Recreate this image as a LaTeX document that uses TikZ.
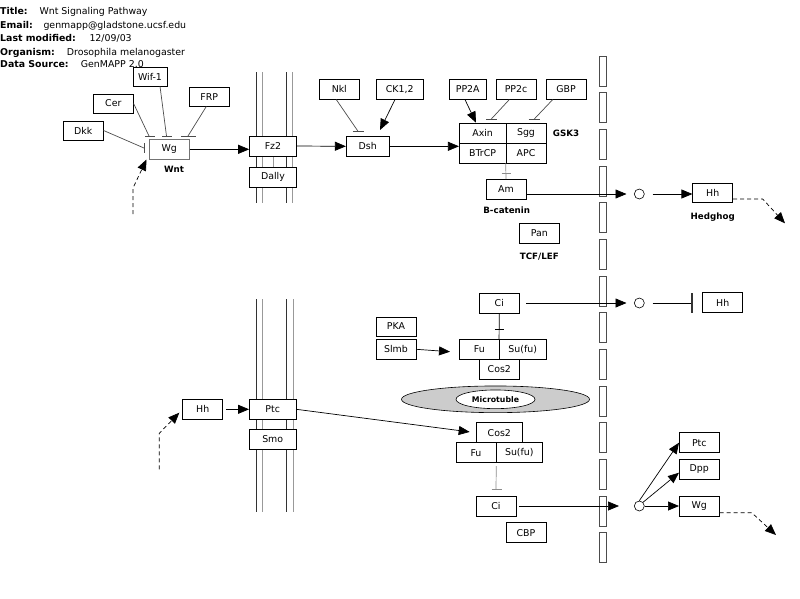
\documentclass[tikz,border=0pt]{standalone}
\usepackage{fontspec}
\setmainfont{DejaVu Sans}
\usetikzlibrary{arrows.meta,shapes.geometric,calc}
\begin{document}
\begin{tikzpicture}[x=1pt,y=-1pt,
 box/.style={draw=black, fill=white, line width=0.6pt, inner sep=0pt, minimum height=20pt, font=\fontsize{9.4}{10}\selectfont},
 lbl/.style={inner sep=0pt, font=\bfseries\fontsize{8.7}{10}\selectfont},
 conn/.style={line width=0.7pt},
 arr/.style={conn, -{Triangle[length=11pt,width=9pt]}},
 dasharr/.style={conn, dash pattern=on 4pt off 3pt, -{Triangle[length=11pt,width=9pt]}},
 inh/.style={line width=0.7pt, draw=black!70},
 pore/.style={draw=black!70, line width=0.6pt},
 memb/.style={line width=0.7pt, draw=black!80},
 membg/.style={line width=0.9pt, draw=black!40},
 hdr/.style={anchor=base west, inner sep=0pt, font=\fontsize{9.4}{10}\selectfont},
 ring/.style={circle, draw, fill=white, line width=0.6pt, minimum size=10pt, inner sep=0pt}]
\useasboundingbox (0,0) rectangle (800,598);

% header
\node[hdr] (t1) at (0,14) {\textbf{Title:}};
\node[hdr] (v1) at (39.3,14) {Wnt Signaling Pathway};
\node[hdr] (t2) at (0,28) {\textbf{Email:}};
\node[hdr] (v2) at (43.3,28) {genmapp@gladstone.ucsf.edu};
\node[hdr] (t3) at (0,41) {\textbf{Last modified:}};
\node[hdr] (v3) at (89.3,41) {12/09/03};
\node[hdr] (t4) at (0,55) {\textbf{Organism:}};
\node[hdr] (v4) at (66.7,55) {Drosophila melanogaster};
\node[hdr] (t5) at (0,67) {\textbf{Data Source:}};
\node[hdr] (v5) at (80.7,67) {GenMAPP 2.0};

% cell membranes
\draw[memb] (256,72) -- (256,203);
\draw[memb] (286,72) -- (286,203);
\draw[membg] (262.3,72) -- (262.3,203);
\draw[membg] (292.3,72) -- (292.3,203);
\draw[membg] (273,156) -- (273,167);
\draw[memb] (256.3,299) -- (256.3,512);
\draw[memb] (286.7,299) -- (286.7,512);
\draw[membg] (262.7,299) -- (262.7,512);
\draw[membg] (293,299) -- (293,512);

% nuclear membrane pores
\foreach \k in {0,...,13} \draw[pore] (599.5,{56+36.67*\k}) rectangle ++(6.5,30);

% top nodes
\node[box, minimum width=34pt, minimum height=19pt] (wif) at (150,76.5) {Wif-1};
\node[box, minimum width=40pt, minimum height=19pt] (cer) at (113.3,103.5) {Cer};
\node[box, minimum width=40pt, minimum height=19pt] (frp) at (209.3,96.7) {FRP};
\node[box, minimum width=40pt, minimum height=19pt] (dkk) at (83.3,130.5) {Dkk};
\node[box, draw=black!55, minimum width=40pt] (wg) at (169.3,149.3) {Wg};
\node[lbl] (wnt) at (174,169.5) {Wnt};
\node[box, minimum width=47pt] (fz2) at (273,146) {Fz2};
\node[box, minimum width=47pt] (dally) at (273,177) {Dally};
\node[box, minimum width=40pt] (nkl) at (339.3,89.3) {Nkl};
\node[box, minimum width=47pt] (ck) at (399.7,89.3) {CK1,2};
\node[box, minimum width=43pt] (dsh) at (367.7,146.3) {Dsh};
\node[box, minimum width=37pt] (pp2a) at (467.7,89.3) {PP2A};
\node[box, minimum width=40pt] (pp2c) at (516,89.3) {PP2c};
\node[box, minimum width=40pt] (gbp) at (566,89.3) {GBP};
\node[box, minimum width=46.7pt] (axin) at (482.6,133) {Axin};
\node[box, minimum width=40pt] (sgg) at (526,133) {Sgg};
\node[box, minimum width=46.7pt] (btrcp) at (482.6,153) {BTrCP};
\node[box, minimum width=40pt] (apc) at (526,153) {APC};
\node[lbl] (gsk3) at (566,133) {GSK3};
\node[box, minimum width=40pt] (am) at (506,189.3) {Am};
\node[lbl] (bcat) at (506.7,210) {B-catenin};
\node[box, minimum width=40pt] (pan) at (539.3,233.3) {Pan};
\node[lbl] (tcf) at (539.3,256.7) {TCF/LEF};
\node[ring] (c1) at (639.3,194) {};
\node[box, minimum width=40pt, minimum height=19pt] (hh1) at (712.7,193) {Hh};
\node[lbl] (hedg) at (712.7,216.7) {Hedghog};

% bottom nodes
\node[box, minimum width=40pt] (ci1) at (499.3,303) {Ci};
\node[ring] (c2) at (639.3,303) {};
\node[box, minimum width=40pt] (hh2) at (722.7,302.7) {Hh};
\node[box, minimum width=40pt] (fu1) at (479.3,349.3) {Fu};
\node[box, minimum width=46.7pt] (sufu1) at (522.7,349.3) {Su(fu)};
\node[box, minimum width=40pt] (cos2a) at (499.3,369.3) {Cos2};
\node[box, minimum width=40pt, minimum height=19pt] (pka) at (396,326.3) {PKA};
\node[box, minimum width=40pt] (slmb) at (396,349.3) {Slmb};
\node[ellipse, draw, fill=black!20, line width=0.6pt, minimum width=188pt, minimum height=26.7pt, inner sep=0pt] (mt) at (495.5,399.3) {};
\node[ellipse, draw, fill=white, line width=0.6pt, minimum width=79pt, minimum height=18.7pt, inner sep=0pt, font=\bfseries\fontsize{7.8}{8}\selectfont] (mti) at (495.5,399.3) {Microtuble};
\node[box, minimum width=46.7pt] (cos2b) at (499.3,432.7) {Cos2};
\node[box, minimum width=40pt] (fu2) at (476,452.7) {Fu};
\node[box, minimum width=46.7pt] (sufu2) at (519.3,452.7) {Su(fu)};
\node[box, minimum width=40pt] (ci2) at (496,506) {Ci};
\node[box, minimum width=40pt] (cbp) at (526,532.7) {CBP};
\node[ring] (c3) at (639.3,506) {};
\node[box, minimum width=40pt] (ptc2) at (699.3,442.7) {Ptc};
\node[box, minimum width=40pt] (dpp) at (699.3,469.3) {Dpp};
\node[box, minimum width=40pt] (wg2) at (699.3,506) {Wg};
\node[box, minimum width=40pt] (hh3) at (202.7,409.3) {Hh};
\node[box, minimum width=46.7pt] (ptc) at (272.7,409.3) {Ptc};
\node[box, minimum width=46.7pt] (smo) at (272.7,439.3) {Smo};

% free-end coordinates
\coordinate (tCer) at (149,136);
\coordinate (tWif) at (166.5,136);
\coordinate (tFrp) at (188,136);
\coordinate (tDkk) at (144,148);
\coordinate (tNkl) at (358.3,131.7);
\coordinate (tCk) at (380,130);
\coordinate (tPp2a) at (476,122.7);
\coordinate (tPp2c) at (491,119.3);
\coordinate (tGbp) at (534,119.3);
\coordinate (tAm) at (506,173.3);
\coordinate (dWga) at (133,214);
\coordinate (dWgb) at (133,188);
\coordinate (dWgc) at (146.5,159.5);
\coordinate (dH1a) at (762.7,199);
\coordinate (dH1b) at (785,223.3);
\coordinate (tCi1) at (499.3,329.3);
\coordinate (tSlmb) at (450,351.7);
\coordinate (tHh) at (691.7,303);
\coordinate (tCi2) at (496,489.3);
\coordinate (dH3a) at (159.3,469.3);
\coordinate (dH3b) at (159.3,433.3);
\coordinate (dH3c) at (179.3,412.7);
\coordinate (dW2a) at (751.7,512.7);
\coordinate (dW2b) at (776,535);

% top connectors
\draw[inh] (cer.east) -- (tCer);
\draw[inh] ($(tCer)+(-4,0)$) -- ($(tCer)+(6,0)$);
\draw[inh] ($(wif.south)+(10,0)$) -- (tWif);
\draw[inh] ($(tWif)+(-4.5,0)$) -- ($(tWif)+(5.5,0)$);
\draw[inh] ($(frp.south)+(-3,0)$) -- (tFrp);
\draw[inh] ($(tFrp)+(-7,0)$) -- ($(tFrp)+(8,0)$);
\draw[inh] (dkk.east) -- (tDkk);
\draw[inh] ($(tDkk)+(0,-5)$) -- ($(tDkk)+(0,5)$);
\draw[dasharr] (dWga) -- (dWgb) -- (dWgc);
\draw[arr] (wg.east) -- (wg.east -| fz2.west);
\draw[arr] (fz2.east) -- (dsh.west);
\draw[inh] ($(nkl.south)+(-3,0)$) -- (tNkl);
\draw[inh] ($(tNkl)+(-5.5,0)$) -- ($(tNkl)+(5.5,0)$);
\draw[arr] ($(ck.south)+(-4.7,0)$) -- (tCk);
\draw[arr] (dsh.east) -- (dsh.east -| axin.west);
\draw[arr] ($(pp2a.south)+(-2.7,0)$) -- (tPp2a);
\draw[inh] ($(pp2c.south)+(-6.7,0)$) -- (tPp2c);
\draw[inh] ($(tPp2c)+(-5,0)$) -- ($(tPp2c)+(5.5,0)$);
\draw[inh] ($(gbp.south)+(-13.3,0)$) -- (tGbp);
\draw[inh] ($(tGbp)+(-5.5,0)$) -- ($(tGbp)+(6,0)$);
\draw[inh, draw=black!45] (apc.south west) -- (am.north);
\draw[inh, draw=black!45] ($(tAm)+(-4.5,0)$) -- ($(tAm)+(4.5,0)$);
\draw[arr, shorten >=7.5pt] (am.east |- c1.center) -- (c1.west);
\draw[arr, shorten <=8pt] (c1.east) -- (c1.east -| hh1.west);
\draw[dasharr] (hh1.east |- dH1a) -- (dH1a) -- (dH1b);

% bottom connectors
\draw[arr, shorten <=6.7pt, shorten >=7.5pt] (ci1.east) -- (c2.west);
\draw[conn, shorten <=8pt] (c2.east) -- (tHh);
\draw[line width=2pt, draw=black!80] ($(tHh)+(0,-10)$) -- ($(tHh)+(0,10)$);
\draw[conn] (ci1.south) -- (sufu1.north west);
\draw[conn] ($(tCi1)+(-4.5,0)$) -- ($(tCi1)+(4.5,0)$);
\draw[arr] (slmb.east) -- (tSlmb);
\draw[arr, shorten >=6pt] (ptc.east) -- (cos2b.west);
\draw[inh, draw=black!45, shorten <=3pt] (fu2.south east) -- (tCi2);
\draw[inh, draw=black!45] ($(tCi2)+(-4.5,0)$) -- ($(tCi2)+(5.5,0)$);
\draw[arr, shorten <=3pt, shorten >=15pt] (ci2.east) -- (c3.west);
\draw[arr] (c3.north) -- (ptc2.west);
\draw[arr] (c3.north east) -- ($(dpp.west)+(0,3.4)$);
\draw[arr] (c3.east) -- (c3.east -| wg2.west);
\draw[dasharr] (wg2.east |- dW2a) -- (dW2a) -- (dW2b);
\draw[arr, shorten <=3pt] (hh3.east) -- (ptc.west);
\draw[dasharr] (dH3a) -- (dH3b) -- (dH3c);
\end{tikzpicture}
\end{document}
